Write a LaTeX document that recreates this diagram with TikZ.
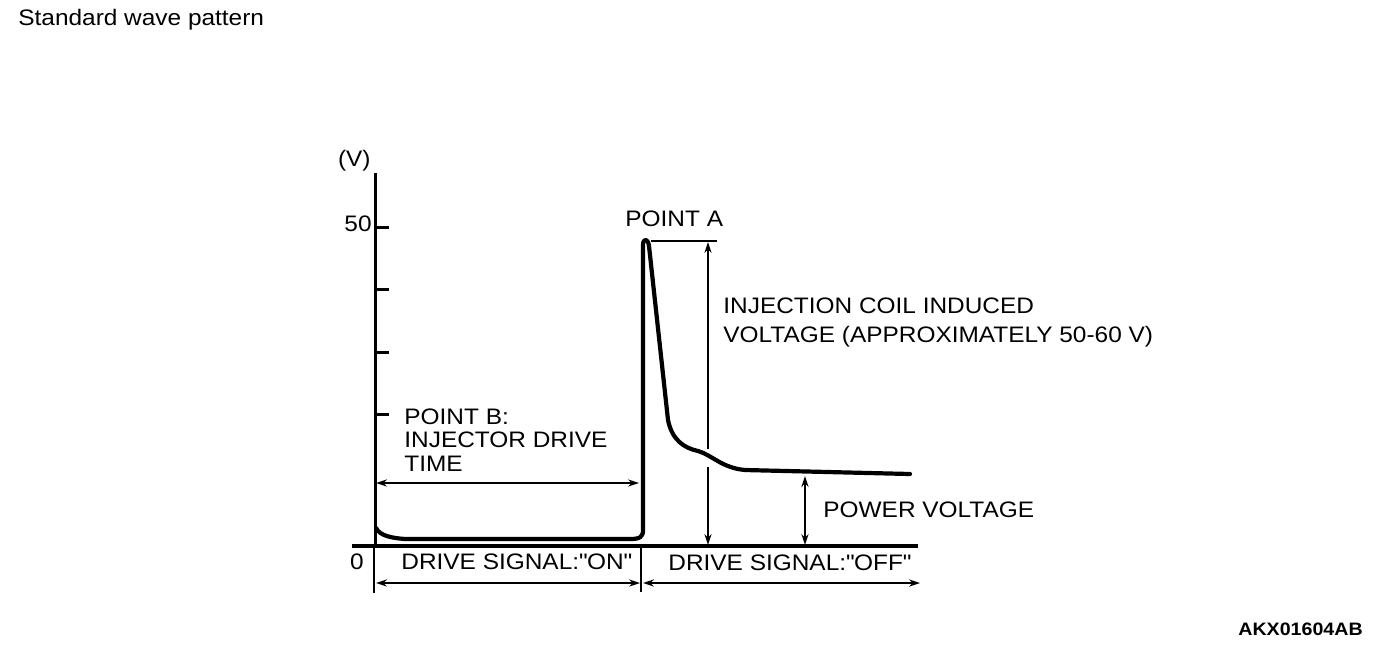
\documentclass[tikz,border=0pt]{standalone}
\usepackage{fontspec}
\setmainfont{Liberation Sans}[FakeStretch=1.09]
\usetikzlibrary{arrows.meta}
\begin{document}
\begin{tikzpicture}[x=0.5pt,y=-0.5pt,
        txt/.style={inner sep=0pt,font=\fontsize{11.2}{14}\selectfont},
        dim/.style={line width=1.4pt,{Stealth[length=5.5pt,width=3.6pt]}-{Stealth[length=5.5pt,width=3.6pt]}},
        wave/.style={line width=2.1pt,line join=round,line cap=round}]
    \useasboundingbox (0,0) rectangle (1392,650);
    \node[txt,anchor=base west] (title) at (18,25) {Standard wave pattern};
    \node[txt,anchor=base west,font=\fontsize{9}{11}\selectfont\bfseries] (code) at (1238,635) {AKX01604AB};

    \begin{scope}
        \coordinate (ytop) at (375,173);
        \coordinate (orig) at (375,546);
        \coordinate (xend) at (918,546);
        \draw[line width=1.5pt] (ytop) -- (orig);
        \draw[line width=2pt] (352,546) -- (xend);
        \foreach \y in {227,289,352,414}
            \draw[line width=1.5pt] (375,\y) -- (389,\y);
        \node[txt,anchor=base east] (unit) at (371,166) {(V)};
        \node[txt,anchor=base east] (fifty) at (372,231) {50};
        \node[txt,anchor=base east] (zero) at (364,569) {0};
    \end{scope}

    \draw[wave] (376,528) .. controls (380,536) and (392,538) .. (405,539) -- (630,539)
        .. controls (640,539) and (643,537) .. (643,530) -- (643,245)
        .. controls (643,238) and (648,238) .. (649,246) -- (668,420)
        .. controls (672,440) and (684,448) .. (698,451)
        .. controls (712,455) and (722,468) .. (745,470) -- (910,474);

    \begin{scope}
        \coordinate (peak) at (651,241);
        \coordinate (peakr) at (717,241);
        \coordinate (coiltop) at (708,242);
        \coordinate (coilmid) at (708,449);
        \coordinate (coillow) at (708,467);
        \coordinate (coilbot) at (708,545);
        \coordinate (pwrtop) at (805,476);
        \coordinate (pwrbot) at (805,545);
        \draw[line width=0.6pt] (peak) -- (peakr);
        \draw[line width=0.6pt,-{Stealth[length=5.5pt,width=3.6pt]}] (coilmid) -- (coiltop);
        \draw[line width=1.4pt,-{Stealth[length=5.5pt,width=3.6pt]}] (coillow) -- (coilbot);
        \draw[dim] (pwrtop) -- (pwrbot);
        \node[txt,anchor=base west] (pointa) at (625,226) {POINT A};
        \node[txt,anchor=north west,align=left,font=\fontsize{11.2}{14.5}\selectfont] (coil) at (723,297)
            {INJECTION COIL INDUCED\\VOLTAGE (APPROXIMATELY 50-60 V)};
        \node[txt,anchor=base west] (power) at (823,517) {POWER VOLTAGE};
    \end{scope}

    \begin{scope}
        \coordinate (drvl) at (376,483);
        \coordinate (drvr) at (639,483);
        \draw[dim] (drvl) -- (drvr);
        \node[txt,anchor=north west,align=left,font=\fontsize{11.2}{11.9}\selectfont] (pointb) at (404,408)
            {POINT B:\\INJECTOR DRIVE\\TIME};
    \end{scope}

    \begin{scope}
        \coordinate (onl) at (376,583);
        \coordinate (onr) at (640,583);
        \coordinate (offl) at (643,583);
        \coordinate (offr) at (920,583);
        \draw[line width=0.8pt] (374,546) -- (374,593);
        \draw[line width=0.8pt] (641,546) -- (641,592);
        \draw[dim] (onl) -- (onr);
        \draw[dim] (offl) -- (offr);
        \node[txt,anchor=base west] (on) at (401,569) {DRIVE SIGNAL:\textquotedbl ON\textquotedbl};
        \node[txt,anchor=base west] (off) at (668,570) {DRIVE SIGNAL:\textquotedbl OFF\textquotedbl};
    \end{scope}
\end{tikzpicture}
\end{document}
